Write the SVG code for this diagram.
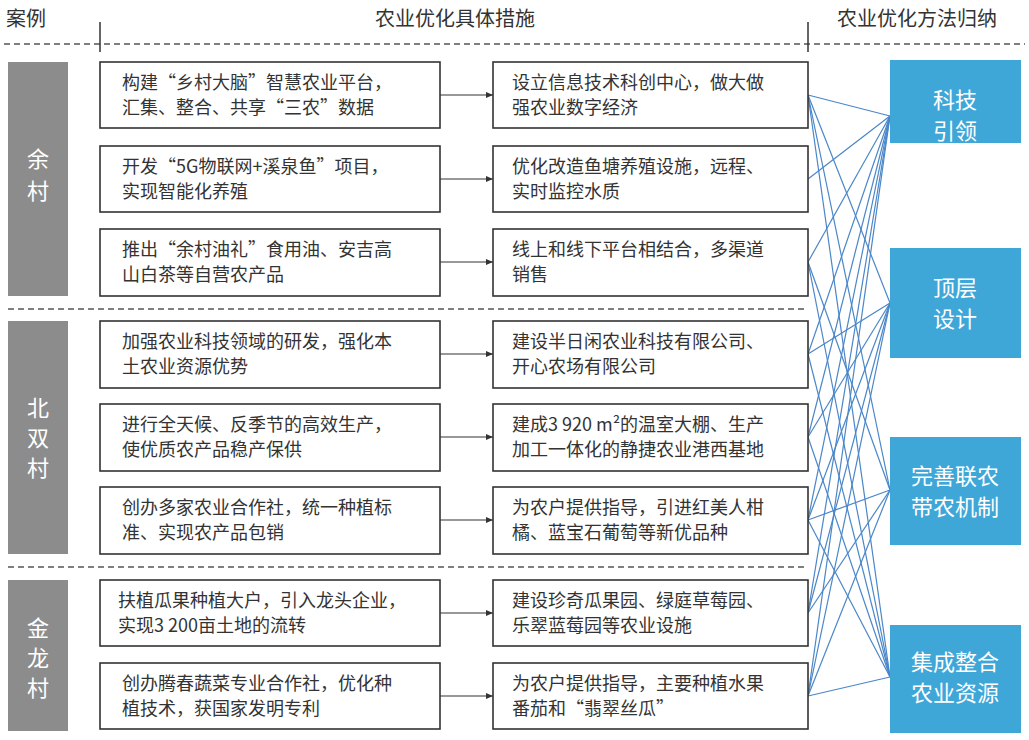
<svg xmlns="http://www.w3.org/2000/svg" width="1029" height="740" viewBox="0 0 1029 740">
<style>
text{font-family:"Noto Sans CJK SC","Liberation Sans",sans-serif;fill:#333}
.h{font-size:20px}
.b{fill:#fff;stroke:#333;stroke-width:1.6}
.t{font-size:18px}
.g{fill:#8c8c8c}
.gt{font-size:22px;fill:#fff;text-anchor:middle}
.r{fill:#3fa7d8}
.rt{font-size:22px;fill:#fff;text-anchor:middle}
.c line{stroke:#4a86c8;stroke-width:1.2}
.c line.a{stroke:#333;stroke-width:1.2;marker-end:url(#ar)}
.d{stroke:#555;stroke-width:1.5;stroke-dasharray:6,4}
</style>
<defs><marker id="ar" markerWidth="8" markerHeight="8" refX="7" refY="4" orient="auto" markerUnits="userSpaceOnUse"><path d="M0,1 L7,4 L0,7z" fill="#333"/></marker></defs>
<rect width="1029" height="740" fill="#fff"/>
<g id="header">
<text class="h" x="6" y="26">案例</text>
<text class="h" x="455" y="26" text-anchor="middle">农业优化具体措施</text>
<text class="h" x="917" y="26" text-anchor="middle">农业优化方法归纳</text>
<line class="d" x1="4" y1="44" x2="1025" y2="44" stroke-width="2.2"/>
<line x1="100" y1="22" x2="100" y2="52" stroke="#333" stroke-width="1.5"/>
<line x1="808" y1="22" x2="808" y2="52" stroke="#333" stroke-width="1.5"/>
<line class="d" x1="8" y1="309" x2="808" y2="309"/>
<line class="d" x1="8" y1="567" x2="808" y2="567"/>
</g>
<g id="case1"><rect class="g" x="8" y="62" width="60" height="234"/><text class="gt" x="38" y="167">余</text><text class="gt" x="38" y="199">村</text></g>
<g id="case2"><rect class="g" x="8" y="321" width="60" height="233"/><text class="gt" x="38" y="416">北</text><text class="gt" x="38" y="446">双</text><text class="gt" x="38" y="476">村</text></g>
<g id="case3"><rect class="g" x="8" y="580" width="60" height="151"/><text class="gt" x="38" y="636">金</text><text class="gt" x="38" y="666">龙</text><text class="gt" x="38" y="696">村</text></g>
<g class="c" id="connectors">
<line x1="808" y1="95" x2="890" y2="116"/><line x1="808" y1="95" x2="890" y2="303"/><line x1="808" y1="95" x2="890" y2="490"/><line x1="808" y1="95" x2="890" y2="677"/>
<line x1="808" y1="179" x2="890" y2="116"/>
<line x1="808" y1="262" x2="890" y2="116"/><line x1="808" y1="262" x2="890" y2="490"/><line x1="808" y1="262" x2="890" y2="677"/>
<line x1="808" y1="354" x2="890" y2="116"/><line x1="808" y1="354" x2="890" y2="303"/><line x1="808" y1="354" x2="890" y2="677"/>
<line x1="808" y1="437" x2="890" y2="116"/><line x1="808" y1="437" x2="890" y2="303"/><line x1="808" y1="437" x2="890" y2="677"/>
<line x1="808" y1="520" x2="890" y2="116"/><line x1="808" y1="520" x2="890" y2="303"/><line x1="808" y1="520" x2="890" y2="490"/><line x1="808" y1="520" x2="890" y2="677"/>
<line x1="808" y1="613" x2="890" y2="116"/><line x1="808" y1="613" x2="890" y2="303"/><line x1="808" y1="613" x2="890" y2="490"/>
<line x1="808" y1="696" x2="890" y2="116"/><line x1="808" y1="696" x2="890" y2="303"/><line x1="808" y1="696" x2="890" y2="490"/><line x1="808" y1="696" x2="890" y2="677"/>
<line class="a" x1="440" y1="95" x2="493" y2="95"/><line class="a" x1="440" y1="179" x2="493" y2="179"/><line class="a" x1="440" y1="262" x2="493" y2="262"/>
<line class="a" x1="440" y1="354" x2="493" y2="354"/><line class="a" x1="440" y1="437" x2="493" y2="437"/><line class="a" x1="440" y1="520" x2="493" y2="520"/>
<line class="a" x1="440" y1="613" x2="493" y2="613"/><line class="a" x1="440" y1="696" x2="493" y2="696"/>
</g>
<g id="l1"><rect class="b" x="100" y="62" width="340" height="66"/><text class="t" x="122" y="89">构建“乡村大脑”智慧农业平台，</text><text class="t" x="122" y="114">汇集、整合、共享“三农”数据</text></g>
<g id="l2"><rect class="b" x="100" y="146" width="340" height="66"/><text class="t" x="122" y="173">开发“5G物联网+溪泉鱼”项目，</text><text class="t" x="122" y="198">实现智能化养殖</text></g>
<g id="l3"><rect class="b" x="100" y="229" width="340" height="67"/><text class="t" x="122" y="256">推出“余村油礼”食用油、安吉高</text><text class="t" x="122" y="281">山白茶等自营农产品</text></g>
<g id="l4"><rect class="b" x="100" y="321" width="340" height="67"/><text class="t" x="122" y="348">加强农业科技领域的研发，强化本</text><text class="t" x="122" y="373">土农业资源优势</text></g>
<g id="l5"><rect class="b" x="100" y="404" width="340" height="67"/><text class="t" x="122" y="431">进行全天候、反季节的高效生产，</text><text class="t" x="122" y="456">使优质农产品稳产保供</text></g>
<g id="l6"><rect class="b" x="100" y="487" width="340" height="67"/><text class="t" x="122" y="514">创办多家农业合作社，统一种植标</text><text class="t" x="122" y="539">准、实现农产品包销</text></g>
<g id="l7"><rect class="b" x="100" y="580" width="340" height="66"/><text class="t" x="118" y="607">扶植瓜果种植大户，引入龙头企业，</text><text class="t" x="118" y="632">实现3 200亩土地的流转</text></g>
<g id="l8"><rect class="b" x="100" y="663" width="340" height="66"/><text class="t" x="122" y="690">创办腾春蔬菜专业合作社，优化种</text><text class="t" x="122" y="715">植技术，获国家发明专利</text></g>
<g id="m1"><rect class="b" x="493" y="62" width="315" height="66"/><text class="t" x="512" y="89">设立信息技术科创中心，做大做</text><text class="t" x="512" y="114">强农业数字经济</text></g>
<g id="m2"><rect class="b" x="493" y="146" width="315" height="66"/><text class="t" x="512" y="173">优化改造鱼塘养殖设施，远程、</text><text class="t" x="512" y="198">实时监控水质</text></g>
<g id="m3"><rect class="b" x="493" y="229" width="315" height="67"/><text class="t" x="512" y="256">线上和线下平台相结合，多渠道</text><text class="t" x="512" y="281">销售</text></g>
<g id="m4"><rect class="b" x="493" y="321" width="315" height="67"/><text class="t" x="512" y="348">建设半日闲农业科技有限公司、</text><text class="t" x="512" y="373">开心农场有限公司</text></g>
<g id="m5"><rect class="b" x="493" y="404" width="315" height="67"/><text class="t" x="512" y="431">建成3 920 m²的温室大棚、生产</text><text class="t" x="512" y="456">加工一体化的静捷农业港西基地</text></g>
<g id="m6"><rect class="b" x="493" y="487" width="315" height="67"/><text class="t" x="512" y="514">为农户提供指导，引进红美人柑</text><text class="t" x="512" y="539">橘、蓝宝石葡萄等新优品种</text></g>
<g id="m7"><rect class="b" x="493" y="580" width="315" height="66"/><text class="t" x="512" y="607">建设珍奇瓜果园、绿庭草莓园、</text><text class="t" x="512" y="632">乐翠蓝莓园等农业设施</text></g>
<g id="m8"><rect class="b" x="493" y="663" width="315" height="66"/><text class="t" x="512" y="690">为农户提供指导，主要种植水果</text><text class="t" x="512" y="715">番茄和“翡翠丝瓜”</text></g>
<g id="r1"><rect class="r" x="890" y="60" width="131" height="83"/><text class="rt" x="955" y="108">科技</text><text class="rt" x="955" y="139">引领</text></g>
<g id="r2"><rect class="r" x="890" y="248" width="131" height="110"/><text class="rt" x="955" y="296">顶层</text><text class="rt" x="955" y="327">设计</text></g>
<g id="r3"><rect class="r" x="890" y="437" width="131" height="108"/><text class="rt" x="955" y="484">完善联农</text><text class="rt" x="955" y="515">带农机制</text></g>
<g id="r4"><rect class="r" x="890" y="625" width="131" height="108"/><text class="rt" x="955" y="670">集成整合</text><text class="rt" x="955" y="701">农业资源</text></g>
</svg>
